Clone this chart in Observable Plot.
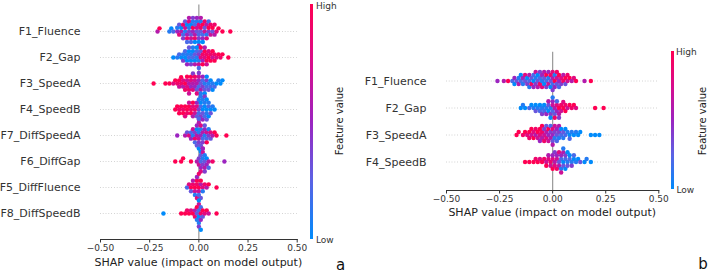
<!DOCTYPE html>
<html><head><meta charset="utf-8">
<script src="https://cdn.jsdelivr.net/npm/d3@7"></script>
<script src="https://cdn.jsdelivr.net/npm/@observablehq/plot@0.6"></script>
<style>
body{margin:0;background:#fff;font-family:"DejaVu Sans",sans-serif;}
#wrap{position:relative;width:708px;height:272px;overflow:hidden;background:#fff;}
#wrap svg{position:absolute;top:0;}
.t{position:absolute;white-space:nowrap;line-height:1;color:#222;}
.c{transform:translate(-50%,-50%);}
.r{transform:translate(-50%,-50%) rotate(-90deg);}
.l{transform:translate(0,-50%);}
.bar{position:absolute;width:3px;}
</style></head><body><div id="wrap"></div>
<script>
// ---- categories ----
const featuresA = ["F1_Fluence","F2_Gap","F3_SpeedA","F4_SpeedB","F7_DiffSpeedA","F6_DiffGap","F5_DiffFluence","F8_DiffSpeedB"];
const featuresB = ["F1_Fluence","F2_Gap","F3_SpeedA","F4_SpeedB"];
const xTicks = [-0.5,-0.25,0,0.25,0.5];
const xTitle = "SHAP value (impact on model output)";
const colorTitle = "Feature value";
const colorLabels = ["Low","High"];
const panelLabels = ["a","b"];
const colorStops = [0, 0.25, 0.5, 0.75, 1];
const colorRange = ["#008bfb","#5c62e4","#9c24c0","#d90c8c","#ff0052"];

// ---- series values: [SHAP value, normalized feature value] ----
const aF1 = [[-0.21,0.6],[-0.20,1],[-0.15,0.1],[-0.14,0],[-0.13,0.2],
[-0.11,0.5],[-0.11,0.1],[-0.10,0.8],[-0.10,0.3],[-0.09,0.6],[-0.09,0],[-0.08,0.2],[-0.08,0.9],[-0.08,0.4],
[-0.07,0.1],[-0.07,0.7],[-0.07,0.3],[-0.06,0.5],[-0.06,0],[-0.06,0.9],[-0.06,0.2],[-0.05,0.4],[-0.05,0.1],[-0.05,0.8],[-0.05,0.6],
[-0.04,0.3],[-0.04,0],[-0.04,0.7],[-0.04,0.2],[-0.03,0.5],[-0.03,1],[-0.03,0.1],[-0.03,0.4],[-0.02,0.6],[-0.02,0.2],[-0.02,0.9],[-0.02,0],
[-0.01,0.3],[-0.01,0.7],[-0.01,0.1],[-0.01,0.5],[0,0.2],[0,0.8],[0,0.4],[0,0],[0,0.6],
[0.01,0.3],[0.01,0.9],[0.01,0.1],[0.01,0.6],[0.02,0.2],[0.02,1],[0.02,0.5],[0.02,0],
[0.03,0.7],[0.03,0.3],[0.03,0.9],[0.04,0.1],[0.04,0.6],[0.04,0.8],[0.05,0.4],[0.05,1],[0.05,0.2],
[0.06,0.7],[0.06,0.9],[0.07,0.3],[0.07,1],[0.08,0.6],[0.08,0.9],[0.09,0.8],[0.10,1],[0.12,1],[0.16,1]];
const aF2 = [[-0.13,0],[-0.11,0.1],[-0.10,0.2],[-0.09,0],[-0.08,0.1],[-0.08,0.4],[-0.07,0],[-0.07,0.2],[-0.06,0.1],[-0.06,0],[-0.06,0.5],
[-0.05,0.2],[-0.05,0],[-0.05,0.3],[-0.04,0.1],[-0.04,0],[-0.04,0.4],[-0.03,0.2],[-0.03,0],[-0.03,0.1],[-0.02,0.3],[-0.02,0],[-0.02,0.6],
[-0.01,0.1],[-0.01,0.2],[-0.01,0],[0,0.4],[0,0.1],[0,0.7],[0,0.2],[0.01,0.8],[0.01,0.3],[0.01,1],
[0.02,0.9],[0.02,0.5],[0.02,1],[0.03,0.8],[0.03,1],[0.03,0.6],[0.04,0.9],[0.04,1],[0.04,0.7],[0.05,1],[0.05,0.8],
[0.06,0.9],[0.06,1],[0.07,0.7],[0.07,1],[0.08,0.9],[0.08,1],[0.09,0.8],[0.10,1],[0.11,0.9],[0.12,1],[0.15,1]];
const aF3 = [[-0.23,1],[-0.17,1],[-0.15,1],[-0.13,0.8],[-0.12,1],[-0.11,0.9],[-0.10,1],[-0.10,0.7],[-0.09,0.9],[-0.09,1],[-0.08,0.8],[-0.08,0.6],
[-0.07,1],[-0.07,0.9],[-0.06,0.7],[-0.06,0.8],[-0.06,1],[-0.05,0.6],[-0.05,0.9],[-0.05,0.7],[-0.04,0.8],[-0.04,0.5],[-0.04,1],
[-0.03,0.6],[-0.03,0.8],[-0.03,0.4],[-0.02,0.7],[-0.02,0.5],[-0.02,0.9],[-0.01,0.6],[-0.01,0.3],[-0.01,0.8],[0,0.5],[0,0.2],[0,0.7],[0,0.4],
[0.01,0.3],[0.01,0.6],[0.01,0.1],[0.02,0.4],[0.02,0.2],[0.02,0.5],[0.03,0.1],[0.03,0.3],[0.03,0],[0.04,0.2],[0.04,0.4],[0.04,0],
[0.05,0.1],[0.05,0.3],[0.06,0],[0.06,0.2],[0.07,0.1],[0.07,0],[0.08,0.2],[0.09,0],[0.10,0.1],[0.11,0],[0.12,0]];
const aF4 = [[-0.12,1],[-0.11,1],[-0.10,0.9],[-0.10,1],[-0.09,1],[-0.08,0.9],[-0.08,1],[-0.07,1],[-0.07,0.8],[-0.06,1],[-0.06,0.9],[-0.05,1],[-0.05,0.7],
[-0.04,0.9],[-0.04,1],[-0.03,0.8],[-0.03,1],[-0.03,0.6],[-0.02,0.9],[-0.02,0.7],[-0.01,0.8],[-0.01,0.5],[-0.01,0.3],
[0,0.4],[0,0.2],[0,0.6],[0,0.1],[0.01,0.2],[0.01,0],[0.01,0.4],[0.01,0.1],[0.02,0],[0.02,0.3],[0.02,0.1],[0.02,0.5],
[0.03,0],[0.03,0.2],[0.03,0.1],[0.03,0.4],[0.04,0],[0.04,0.1],[0.04,0.3],[0.04,0],[0.05,0.2],[0.05,0],[0.05,0.1],
[0.06,0],[0.06,0.3],[0.07,0.1],[0.08,0]];
const aF7 = [[-0.11,0.5],[-0.07,0.6],[-0.06,0.3],[-0.05,0.8],[-0.04,0.2],[-0.04,0.5],[-0.03,0.1],[-0.03,0.7],[-0.02,0.4],[-0.02,0.9],[-0.02,0.2],
[-0.01,0.6],[-0.01,0],[-0.01,0.5],[-0.01,0.3],[0,0.1],[0,0.7],[0,0.4],[0,0],[0,0.6],[0,0.2],
[0.01,0.5],[0.01,0.1],[0.01,0.8],[0.01,0.3],[0.01,0],[0.02,0.6],[0.02,0.2],[0.02,0.4],[0.02,0.9],[0.03,0.1],[0.03,0.5],[0.03,0.3],
[0.04,0.7],[0.04,0.2],[0.04,1],[0.05,0.4],[0.05,0.1],[0.06,0.8],[0.06,0.3],[0.07,0.6],[0.08,1],[0.09,1],[0.14,1]];
const aF6 = [[-0.12,1],[-0.09,1],[-0.08,1],[-0.04,1],
[-0.01,0.6],[0,0.4],[0,0.7],[0.01,0.2],[0.01,0.5],[0.01,0.3],[0.01,0.8],
[0.02,0.4],[0.02,0.1],[0.02,0.7],[0.02,0.5],[0.03,0.3],[0.03,0.6],[0.03,0.1],[0.03,0.4],
[0.04,0.5],[0.04,0],[0.05,0.6],[0.05,0.2],[0.07,0.9],[0.13,0.5]];
const aF5 = [[-0.06,0.2],[-0.05,0.8],[-0.04,1],[-0.04,0.3],[-0.03,0.9],[-0.03,0.6],[-0.02,1],[-0.02,0.7],[-0.02,0.1],[-0.01,0.9],[-0.01,1],[-0.01,0.5],[-0.01,0.8],
[0,1],[0,0.7],[0,0.2],[0,0.9],[0.01,0.6],[0.01,1],[0.01,0.3],[0.02,0.8],[0.02,0.1],[0.03,0.9],[0.04,0.6],[0.05,1],[0.09,1]];
const aF8 = [[-0.18,0],[-0.09,1],[-0.07,1],[-0.06,0.9],[-0.05,1],[-0.04,0.8],[-0.03,1],[-0.02,0.6],[-0.02,0.9],[-0.01,0.3],[-0.01,1],[-0.01,0.1],
[0,0.2],[0,0],[0,0.7],[0,0.1],[0,0.4],[0,0],[0.01,0.9],[0.01,0.2],[0.01,0.5],[0.01,0],[0.02,1],[0.02,0.3],[0.03,0.8],[0.04,1],[0.05,0.7],[0.09,1]];

const bF1 = [[-0.26,0.5],[-0.23,0.6],[-0.21,1],[-0.19,0.2],[-0.18,0.5],[-0.18,0],[-0.17,0.3],[-0.16,0.1],[-0.16,0.6],[-0.15,0.2],[-0.15,0],[-0.14,0.5],[-0.14,0.1],
[-0.13,0.3],[-0.13,0.8],[-0.12,0],[-0.12,0.4],[-0.11,0.2],[-0.11,0.6],[-0.11,0.1],[-0.10,0.3],[-0.10,0.9],[-0.09,0],[-0.09,0.5],[-0.09,0.2],
[-0.08,0.4],[-0.08,0.1],[-0.08,0.7],[-0.07,0.3],[-0.07,0],[-0.07,0.6],[-0.06,0.2],[-0.06,0.9],[-0.06,0.4],[-0.05,0.1],[-0.05,0.5],[-0.05,0.8],
[-0.04,0.3],[-0.04,0],[-0.04,0.6],[-0.03,0.2],[-0.03,1],[-0.03,0.4],[-0.02,0.1],[-0.02,0.7],[-0.02,0.5],[-0.01,0.3],[-0.01,0.9],[-0.01,0],
[0,0.6],[0,0.2],[0,0.8],[0,0.4],[0.01,1],[0.01,0.1],[0.01,0.5],[0.02,0.7],[0.02,0.3],[0.02,0.9],[0.03,0.5],[0.03,1],[0.03,0.2],
[0.04,0.8],[0.04,0.4],[0.05,0.9],[0.05,0.6],[0.06,1],[0.06,0.3],[0.07,0.7],[0.07,0.9],[0.08,1],[0.09,0.6],[0.10,0.8],[0.11,1],[0.15,0.6],[0.18,1]];
const bF2 = [[-0.15,0],[-0.14,0.1],[-0.13,0],[-0.11,0.2],[-0.10,0],[-0.09,0.1],[-0.08,0],[-0.08,0.3],[-0.07,0.1],[-0.06,0],[-0.06,0.2],[-0.05,0.1],[-0.05,0.4],
[-0.04,0],[-0.04,0.2],[-0.03,0.1],[-0.03,0.5],[-0.02,0],[-0.02,0.3],[-0.02,0.6],[-0.01,0.1],[-0.01,0.4],[-0.01,0],[0,0.7],[0,0.2],[0,0.5],[0,0.1],
[0.01,0.6],[0.01,0.3],[0.01,0.9],[0.02,0.5],[0.02,0.8],[0.02,0.2],[0.03,1],[0.03,0.6],[0.03,0.4],[0.04,0.9],[0.04,0.7],[0.05,1],[0.05,0.8],
[0.06,0.9],[0.06,1],[0.07,0.7],[0.08,1],[0.09,0.9],[0.10,1],[0.11,0.8],[0.20,1],[0.24,1]];
const bF3 = [[-0.17,1],[-0.16,1],[-0.14,0.9],[-0.13,1],[-0.12,0.8],[-0.11,1],[-0.11,0.9],[-0.10,0.7],[-0.10,1],[-0.09,0.8],[-0.09,1],[-0.08,0.6],[-0.08,0.9],
[-0.07,1],[-0.07,0.7],[-0.06,0.8],[-0.06,1],[-0.06,0.5],[-0.05,0.9],[-0.05,0.6],[-0.05,1],[-0.04,0.7],[-0.04,0.4],[-0.04,0.9],[-0.03,0.6],[-0.03,0.8],[-0.03,0.3],
[-0.02,0.5],[-0.02,1],[-0.02,0.7],[-0.01,0.4],[-0.01,0.6],[-0.01,0.2],[0,0.5],[0,0.8],[0,0.3],[0,0.6],[0.01,0.4],[0.01,0.1],[0.01,0.7],
[0.02,0.3],[0.02,0.5],[0.02,0.2],[0.03,0.4],[0.03,0.1],[0.03,0.6],[0.04,0.2],[0.04,0],[0.05,0.3],[0.05,0.1],[0.06,0.2],[0.06,0],
[0.07,0.1],[0.08,0],[0.08,0.2],[0.09,0.1],[0.10,0],[0.11,0.1],[0.12,0],[0.13,0],[0.18,0],[0.20,0],[0.22,0]];
const bF4 = [[-0.13,1],[-0.11,1],[-0.09,1],[-0.08,0.9],[-0.07,1],[-0.06,0.8],[-0.05,1],[-0.04,0.9],[-0.03,0.7],[-0.03,1],[-0.02,0.8],[-0.02,0.6],
[-0.01,0.9],[-0.01,0.7],[0,0.8],[0,0.5],[0,1],[0.01,0.6],[0.01,0.8],[0.01,0.4],[0.02,0.7],[0.02,0.5],[0.02,0.9],[0.03,0.3],[0.03,0.6],[0.03,0.8],
[0.04,0.2],[0.04,0.5],[0.04,0.1],[0.04,0.7],[0.05,0],[0.05,0.3],[0.05,0.6],[0.05,0.1],[0.06,0.2],[0.06,0.4],[0.06,0],[0.07,0.1],[0.07,0.3],[0.07,0],
[0.08,0.2],[0.08,0],[0.09,0.1],[0.09,0.4],[0.10,0],[0.10,0.2],[0.11,0.1],[0.12,0],[0.13,0.3],[0.15,0],[0.16,0.1],[0.18,0]];

const seriesA = [aF1,aF2,aF3,aF4,aF7,aF6,aF5,aF8];
const seriesB = [bF1,bF2,bF3,bF4];

function rows(features, series) {
  return features.flatMap((f, i) => series[i].map(([shap, value]) => ({feature: f, shap, value})));
}
const fmt = d => d3.format(".2f")(d);
const baseStyle = {fontFamily: "DejaVu Sans", background: "transparent", overflow: "visible", color: "#333"};

// non-faceted layer: zero line, bottom spine and x axis
function axisLayer(o) {
  return Plot.plot({
    width: 354, height: 272,
    marginLeft: o.ml, marginRight: o.mr, marginTop: o.mt, marginBottom: o.mb,
    style: baseStyle,
    x: {domain: [-0.5, 0.5], axis: null},
    marks: [
      Plot.ruleX([0], {stroke: "#999", strokeWidth: 1.2}),
      Plot.frame({anchor: "bottom", stroke: "#333"}),
      Plot.axisX(xTicks, {anchor: "bottom", tickSize: 3.5, tickPadding: 2,
        fontSize: 9, label: null, tickFormat: fmt, color: "#333"})
    ]
  });
}
// faceted layer: dotted row guides, beeswarm dots, feature labels
function swarmLayer(o) {
  return Plot.plot({
    width: 354, height: 272,
    marginLeft: o.ml, marginRight: o.mr, marginTop: o.mt, marginBottom: o.mb,
    style: baseStyle,
    x: {domain: [-0.5, 0.5], axis: null},
    fy: {domain: o.features, range: o.fyRange, padding: 0, axis: null},
    color: {type: "linear", domain: colorStops, range: colorRange},
    marks: [
      Plot.ruleY(o.features, {fy: d => d, y: null, stroke: "#bbb", strokeWidth: 0.8, strokeDasharray: "0.8,2"}),
      Plot.dot(rows(o.features, o.series), Plot.dodgeY({anchor: "middle", padding: -0.7},
        {x: "shap", fy: "feature", fill: "value", r: 2.2})),
      Plot.text(o.features, {fy: d => d, x: null, y: null, text: d => d, frameAnchor: "left",
        textAnchor: "end", dx: -20, fontSize: 11, fill: "#333"})
    ]
  });
}

const wrap = document.getElementById("wrap");
const optA = {features: featuresA, series: seriesA, ml: 100, mr: 57.3, mt: 4.5, mb: 33, fyRange: [17.7, 225.7]};
const optB = {features: featuresB, series: seriesB, ml: 92, mr: 49.7, mt: 51.8, mb: 82, fyRange: [65.55, 175.45]};
for (const [o, left] of [[optA, 0], [optB, 354]]) {
  const base = axisLayer(o); base.style.left = left + "px"; wrap.appendChild(base);
  const top = swarmLayer(o); top.style.left = left + "px"; wrap.appendChild(top);
}

function addText(txt, x, y, cls, size, color) {
  const d = document.createElement("div");
  d.className = "t " + cls;
  d.textContent = txt;
  d.style.left = x + "px"; d.style.top = y + "px";
  d.style.fontSize = size + "px";
  if (color) d.style.color = color;
  wrap.appendChild(d);
}
function addBar(x, y0, y1) {
  const d = document.createElement("div");
  d.className = "bar";
  const stops = colorStops.map((s, i) => `${colorRange[i]} ${(1 - s) * 100}%`).reverse().join(",");
  d.style.background = `linear-gradient(to bottom, ${stops})`;
  d.style.left = x + "px"; d.style.top = y0 + "px"; d.style.height = (y1 - y0) + "px";
  wrap.appendChild(d);
}

// panel a decorations
addText(xTitle, 198.4, 262, "c", 11, "#222");
addBar(309.5, 4, 238.5);
addText(colorLabels[1], 316, 5.5, "l", 9, "#333");
addText(colorLabels[0], 316, 239.5, "l", 9, "#333");
addText(colorTitle, 340, 121, "r", 10, "#222");
addText(panelLabels[0], 340.5, 265, "c", 15, "#111");
// panel b decorations
addText(xTitle, 552.2, 211.7, "c", 11, "#222");
addBar(671, 51, 189);
addText(colorLabels[1], 676, 52, "l", 9, "#333");
addText(colorLabels[0], 676.5, 190, "l", 9, "#333");
addText(colorTitle, 702.5, 121, "r", 10, "#222");
addText(panelLabels[1], 703, 264, "c", 15, "#111");
</script></body></html>
